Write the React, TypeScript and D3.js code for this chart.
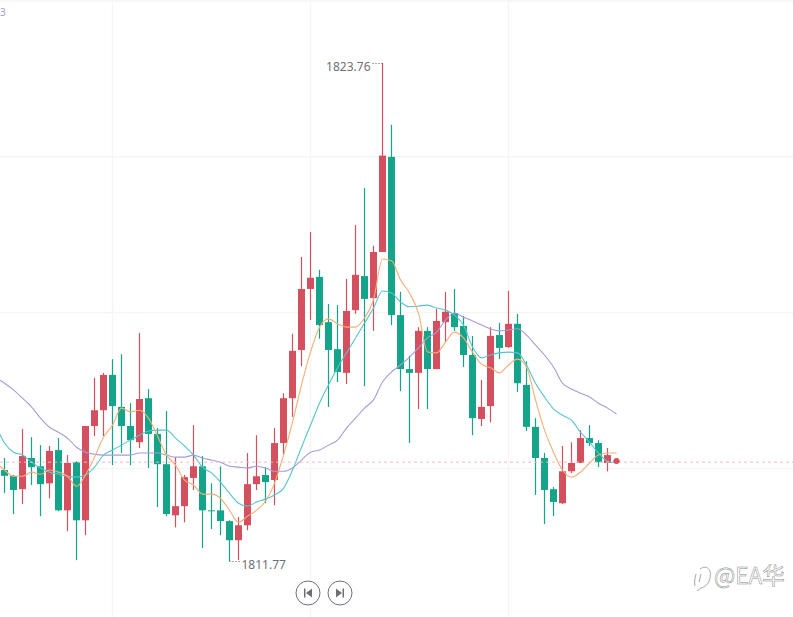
import React, { useEffect, useRef } from 'react';
import * as d3 from 'd3';

// first candle sits just left of the visible area
const opens = [
    1814.10,
    1813.96, 1813.82, 1813.50, 1814.25, 1814.05, 1813.64, 1814.44, 1812.99, 1814.15, 1812.75,
    1815.02, 1815.40, 1816.25, 1815.48, 1815.02, 1814.63, 1815.69, 1814.83, 1814.10, 1812.87,
    1813.09, 1813.77, 1814.05, 1812.99, 1812.99, 1812.73, 1812.27, 1812.63, 1813.62, 1813.84,
    1813.72, 1814.61, 1815.69, 1816.85, 1818.32, 1818.61, 1817.52, 1816.87, 1816.30, 1817.81,
    1818.63, 1818.10, 1819.21, 1821.50, 1817.69, 1816.39, 1816.30, 1817.31, 1816.39, 1817.52,
    1817.74, 1817.43, 1816.73, 1815.19, 1815.50, 1817.21, 1816.92, 1817.48, 1816.01, 1815.00,
    1814.25, 1813.50, 1813.16, 1813.93, 1814.13, 1814.73, 1814.61, 1814.13, 1814.17,
];
const closes = [
    1813.96,
    1813.82, 1813.48, 1814.30, 1814.03, 1813.62, 1814.42, 1812.99, 1814.13, 1812.75, 1815.02,
    1815.40, 1816.25, 1815.50, 1815.02, 1814.68, 1815.67, 1814.83, 1814.10, 1812.90, 1813.09,
    1813.79, 1814.05, 1812.99, 1812.97, 1812.73, 1812.27, 1812.63, 1813.62, 1813.81, 1813.67,
    1814.61, 1815.69, 1816.83, 1818.32, 1818.59, 1817.45, 1816.85, 1816.32, 1817.79, 1818.66,
    1818.08, 1819.21, 1821.53, 1817.69, 1816.39, 1816.30, 1817.31, 1816.39, 1817.55, 1817.77,
    1817.40, 1816.73, 1815.21, 1815.48, 1817.19, 1816.90, 1817.48, 1816.05, 1815.00, 1814.25,
    1813.48, 1813.19, 1813.93, 1814.13, 1814.73, 1814.61, 1814.15, 1814.32, 1814.18,
];
const lows = [
    1813.80,
    1813.41, 1812.90, 1813.14, 1813.60, 1812.85, 1813.28, 1812.97, 1812.49, 1811.79, 1812.39,
    1814.78, 1814.78, 1814.08, 1814.37, 1814.08, 1814.49, 1814.01, 1813.07, 1812.85, 1812.58,
    1812.70, 1813.48, 1812.08, 1812.54, 1812.39, 1811.77, 1811.79, 1812.51, 1813.48, 1813.16,
    1813.11, 1814.32, 1815.24, 1816.46, 1817.57, 1817.12, 1815.48, 1816.08, 1816.03, 1817.72,
    1815.98, 1817.31, 1819.21, 1817.45, 1815.86, 1814.61, 1815.43, 1815.43, 1816.39, 1817.04,
    1817.31, 1816.44, 1814.80, 1815.02, 1815.11, 1816.63, 1816.90, 1815.84, 1814.90, 1813.36,
    1812.66, 1812.85, 1813.14, 1813.89, 1814.13, 1814.54, 1814.03, 1813.93, 1814.17,
];
const highs = [
    1814.20,
    1814.25, 1813.84, 1814.95, 1814.75, 1814.56, 1814.54, 1814.73, 1814.32, 1814.17, 1815.02,
    1816.18, 1816.30, 1816.63, 1816.75, 1815.57, 1817.26, 1815.91, 1814.97, 1815.38, 1814.27,
    1813.84, 1815.04, 1814.30, 1813.64, 1814.05, 1812.75, 1812.83, 1814.37, 1814.80, 1814.03,
    1814.97, 1815.81, 1817.24, 1819.09, 1819.69, 1818.78, 1817.96, 1817.93, 1818.56, 1819.86,
    1820.75, 1819.36, 1823.76, 1822.27, 1818.25, 1816.71, 1817.40, 1817.40, 1817.84, 1818.25,
    1818.32, 1817.67, 1817.19, 1816.13, 1817.40, 1817.50, 1818.27, 1817.72, 1816.58, 1815.21,
    1814.37, 1813.55, 1814.54, 1814.63, 1814.92, 1815.04, 1814.68, 1814.49, 1814.18,
];
const ma5 = [
    1814.15,
    1813.96, 1813.81, 1813.81, 1813.91, 1813.86, 1813.96, 1813.91, 1813.81, 1813.57, 1813.84,
    1814.27, 1814.75, 1815.04, 1815.45, 1815.36, 1815.40, 1815.21, 1814.78, 1814.32, 1814.08,
    1813.72, 1813.60, 1813.38, 1813.38, 1813.28, 1812.99, 1812.70, 1812.85, 1812.99, 1813.21,
    1813.64, 1814.32, 1815.11, 1816.01, 1816.80, 1817.40, 1817.60, 1817.48, 1817.40, 1817.40,
    1817.62, 1818.06, 1819.04, 1819.00, 1818.54, 1818.22, 1817.74, 1816.80, 1816.78, 1817.04,
    1817.28, 1817.14, 1816.80, 1816.51, 1816.42, 1816.30, 1816.49, 1816.63, 1816.44, 1815.65,
    1814.92, 1814.39, 1813.96, 1813.79, 1813.91, 1814.13, 1814.32, 1814.37, 1814.37,
];
const ma10 = [
    1815.04,
    1814.61, 1814.39, 1814.32, 1814.15, 1814.01, 1813.91, 1813.86, 1813.81, 1813.79, 1813.84,
    1814.03, 1814.32, 1814.44, 1814.56, 1814.68, 1814.80, 1814.90, 1814.92, 1814.92, 1814.73,
    1814.54, 1814.32, 1814.03, 1813.89, 1813.67, 1813.40, 1813.16, 1813.09, 1813.19, 1813.26,
    1813.36, 1813.52, 1813.96, 1814.51, 1815.04, 1815.57, 1816.01, 1816.42, 1816.78, 1817.14,
    1817.50, 1817.86, 1818.27, 1818.22, 1818.01, 1817.89, 1817.91, 1817.93, 1817.86, 1817.81,
    1817.69, 1817.45, 1816.92, 1816.66, 1816.73, 1816.78, 1816.80, 1816.78, 1816.49, 1816.05,
    1815.72, 1815.43, 1815.28, 1815.16, 1814.87, 1814.63, 1814.37, 1814.17, 1814.13,
];
const ma30 = [
    1816.18,
    1816.05, 1815.89, 1815.69, 1815.48, 1815.21, 1814.99, 1814.87, 1814.73, 1814.51, 1814.39,
    1814.34, 1814.32, 1814.32, 1814.32, 1814.32, 1814.37, 1814.37, 1814.37, 1814.32, 1814.27,
    1814.27, 1814.32, 1814.25, 1814.20, 1814.15, 1814.05, 1814.03, 1814.01, 1814.05, 1814.01,
    1813.93, 1813.93, 1814.01, 1814.20, 1814.39, 1814.44, 1814.56, 1814.68, 1814.97, 1815.21,
    1815.45, 1815.65, 1816.08, 1816.32, 1816.49, 1816.68, 1816.90, 1817.14, 1817.28, 1817.57,
    1817.74, 1817.64, 1817.55, 1817.45, 1817.36, 1817.31, 1817.33, 1817.36, 1817.21, 1816.97,
    1816.73, 1816.44, 1816.05, 1815.91, 1815.81, 1815.72, 1815.57, 1815.45, 1815.31,
];

const gridPrices = [1825.25, 1821.5, 1817.75, 1814];
const gridIndexes = [13, 35, 57];
const lastPrice = 1814.15;
const highLabel = '1823.76';
const lowLabel = '1811.77';
const cornerLabel = '3';
const watermark = '@EA华';

const RED = '#d4505f';
const GREEN = '#14a489';
const GRAY = '#6e7079';

const App: React.FC = () => {
    const svgRef = useRef<SVGSVGElement>(null);

    useEffect(() => {
        if (!svgRef.current) return;
        const width = 793;
        const height = 617;
        const font = '"Noto Sans", sans-serif';

        const svg = d3.select(svgRef.current);
        svg.selectAll('*').remove();

        const x = d3.scaleLinear().domain([0, 69]).range([-4.5, 616.5]);
        const y = d3.scaleLinear().domain([1811.77, 1823.76]).range([561, 63]);

        // Grid
        const gridY = svg.append('g').call(
            d3.axisRight(y).tickValues(gridPrices).tickSize(width).tickFormat(() => '').offset(0)
        );
        const gridX = svg.append('g').call(
            d3.axisBottom(x).tickValues(gridIndexes).tickSize(height).tickFormat(() => '').offset(0)
        );
        [gridY, gridX].forEach(g => {
            g.select('.domain').remove();
            g.selectAll('line').attr('stroke', '#f5f5f5').attr('stroke-width', 1.5);
        });

        // Candles
        const candles = d3.range(opens.length);
        const isUp = (i: number) => closes[i] >= opens[i];
        const group = svg.append('g')
            .selectAll('g')
            .data(candles)
            .enter()
            .append('g')
            .attr('fill', i => (isUp(i) ? RED : GREEN))
            .attr('stroke', i => (isUp(i) ? RED : GREEN));

        group.append('line')
            .attr('x1', i => x(i))
            .attr('x2', i => x(i))
            .attr('y1', i => y(highs[i]))
            .attr('y2', i => y(lows[i]))
            .attr('stroke-width', 1.2);

        group.append('rect')
            .attr('x', i => x(i) - 3.5)
            .attr('width', 7)
            .attr('y', i => y(Math.max(opens[i], closes[i])))
            .attr('height', i => Math.max(1, Math.abs(y(opens[i]) - y(closes[i]))))
            .attr('stroke', 'none');

        // Moving averages
        const line = d3.line<number>()
            .x((_, i) => x(i))
            .y(d => y(d))
            .curve(d3.curveMonotoneX);

        [
            { values: ma30, color: '#a99ad8' },
            { values: ma10, color: '#56c4cf' },
            { values: ma5, color: '#f4ae78' },
        ].forEach(s => {
            svg.append('path')
                .attr('d', line(s.values))
                .attr('fill', 'none')
                .attr('stroke', s.color)
                .attr('stroke-width', 1.1);
        });

        // Last price line and point
        svg.append('line')
            .attr('x1', 0)
            .attr('x2', width)
            .attr('y1', y(lastPrice))
            .attr('y2', y(lastPrice))
            .attr('stroke', '#f6b9c5')
            .attr('stroke-width', 1)
            .attr('stroke-dasharray', '3 3');

        const lastIndex = opens.length - 1;
        svg.append('circle')
            .attr('cx', x(lastIndex))
            .attr('cy', y(closes[lastIndex]))
            .attr('r', 3)
            .attr('fill', RED);

        // High / low markers
        const highIndex = d3.maxIndex(highs);
        const lowIndex = d3.minIndex(lows);

        svg.append('line')
            .attr('x1', x(highIndex) - 10)
            .attr('x2', x(highIndex))
            .attr('y1', y(highs[highIndex]) + 0.5)
            .attr('y2', y(highs[highIndex]) + 0.5)
            .attr('stroke', '#555')
            .attr('stroke-dasharray', '1 2');
        svg.append('text')
            .attr('x', x(highIndex) - 12)
            .attr('y', y(highs[highIndex]) + 8)
            .attr('text-anchor', 'end')
            .attr('font-family', font)
            .attr('font-size', 12)
            .attr('fill', GRAY)
            .text(highLabel);

        svg.append('line')
            .attr('x1', x(lowIndex))
            .attr('x2', x(lowIndex) + 10)
            .attr('y1', y(lows[lowIndex]) + 0.5)
            .attr('y2', y(lows[lowIndex]) + 0.5)
            .attr('stroke', '#555')
            .attr('stroke-dasharray', '1 2');
        svg.append('text')
            .attr('x', x(lowIndex) + 12)
            .attr('y', y(lows[lowIndex]) + 8)
            .attr('font-family', font)
            .attr('font-size', 12)
            .attr('fill', GRAY)
            .text(lowLabel);

        // Corner legend remnant
        svg.append('text')
            .attr('x', 0)
            .attr('y', 16)
            .attr('font-family', font)
            .attr('font-size', 10)
            .attr('fill', '#a99ad8')
            .text(cornerLabel);

        // Paging buttons
        const buttons = svg.append('g').attr('transform', 'translate(0, 593)');
        [
            { cx: 308, icon: 'M-4,-4.5 V4.5 H-2.5 V-4.5 Z M4,-4.5 L-2,0 L4,4.5 Z' },
            { cx: 340, icon: 'M4,-4.5 V4.5 H2.5 V-4.5 Z M-4,-4.5 L2,0 L-4,4.5 Z' },
        ].forEach(b => {
            const g = buttons.append('g').attr('transform', `translate(${b.cx}, 0)`);
            g.append('circle')
                .attr('r', 12)
                .attr('fill', '#fff')
                .attr('stroke', GRAY)
                .attr('stroke-width', 1);
            g.append('path').attr('d', b.icon).attr('fill', GRAY);
        });

        // Watermark
        const mark = svg.append('g');
        mark.append('path')
            .attr('d', 'M700,569 C707,564 712,570 710,578 C709,584 705,587 701,588 L697,591 M696,574 C695,578 694,582 695,586 M701,574 L699,582')
            .attr('fill', 'none')
            .attr('stroke', '#8f8f8f')
            .attr('stroke-width', 0.8);
        mark.append('text')
            .attr('x', 714)
            .attr('y', 584)
            .attr('font-family', '"Noto Sans CJK SC", sans-serif')
            .attr('font-size', 22.5)
            .attr('fill', '#ffffff')
            .attr('stroke', '#8a8a8a')
            .attr('stroke-width', 0.5)
            .text(watermark);
    }, []);

    return (
        <svg
            ref={svgRef}
            width={793}
            height={617}
            style={{ position: 'absolute', left: 0, top: 0, background: '#fff' }}
        ></svg>
    );
};

export default App;
